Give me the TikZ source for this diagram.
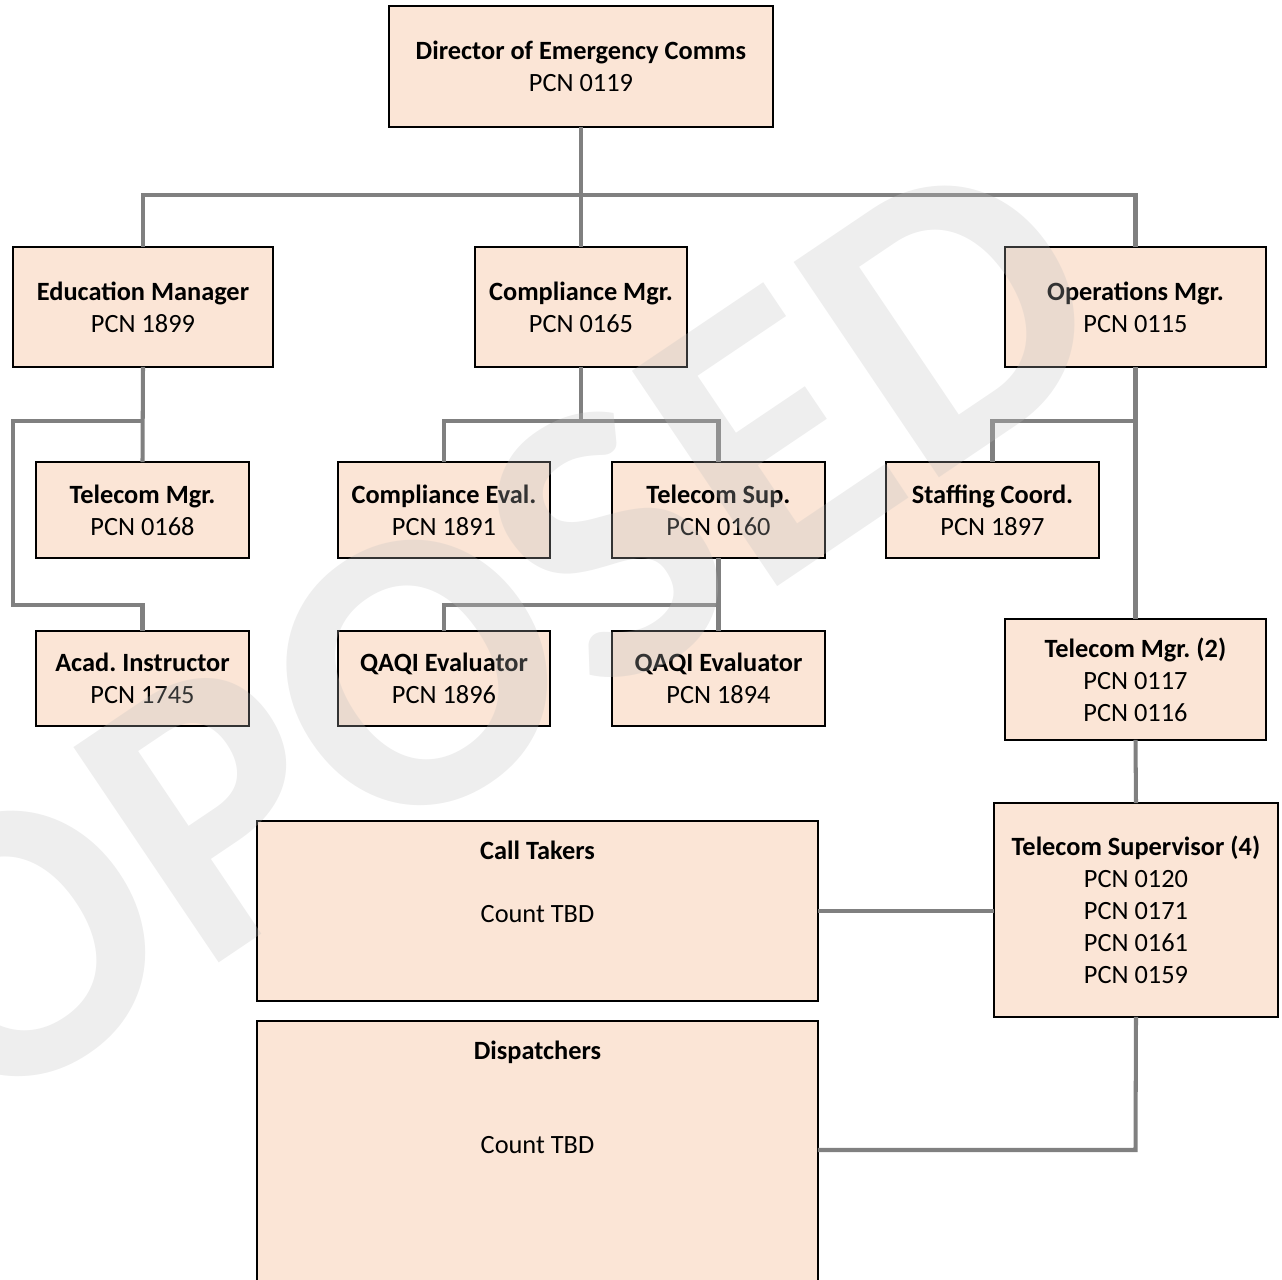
\documentclass[tikz,border=0pt]{standalone}
\usepackage{fontspec}
\setmainfont{Carlito}
\usetikzlibrary{positioning}
\frenchspacing

\definecolor{boxfill}{HTML}{FBE5D6}
\definecolor{linkgray}{HTML}{808080}

\tikzset{
  box/.style={draw=black, line width=1.1pt, fill=boxfill, align=center,
    inner sep=0pt, outer sep=0pt, font=\fontsize{15}{18.14}\selectfont},
  link/.style={draw=linkgray, line width=2.3pt},
  boxlabel/.style={inner sep=0pt, font=\fontsize{15}{18.14}\selectfont},
  watermark/.style={inner sep=0pt, text=gray!50, text opacity=0.27,
    font=\fontsize{228}{228}\selectfont\bfseries}
}

\begin{document}
\begin{tikzpicture}[x=0.02cm, y=-0.02cm]
  \useasboundingbox (0,0) rectangle (1282,1280);
  \clip (0,0) rectangle (1282,1280);

  % top
  \node[box, minimum width=7.68cm, minimum height=2.42cm] (dir) at (581,66.5) {\textbf{Director of Emergency Comms}\\PCN 0119};

  % second row
  \node[box, minimum width=5.2cm, minimum height=2.4cm] (edu) at (143,307) {\textbf{Education Manager}\\PCN 1899};
  \node[box, minimum width=4.24cm, minimum height=2.4cm] (comp) at (581,307) {\textbf{Compliance Mgr.}\\PCN 0165};
  \node[box, minimum width=5.22cm, minimum height=2.4cm] (ops) at (1135.5,307) {\textbf{Operations Mgr.}\\PCN 0115};

  % third row
  \node[box, minimum width=4.26cm, minimum height=1.92cm] (tmgr) at (142.5,510) {\textbf{Telecom Mgr.}\\PCN 0168};
  \node[box, minimum width=4.24cm, minimum height=1.92cm] (ceval) at (444,510) {\textbf{Compliance Eval.}\\PCN 1891};
  \node[box, minimum width=4.26cm, minimum height=1.92cm] (tsup) at (718.5,510) {\textbf{Telecom Sup.}\\PCN 0160};
  \node[box, minimum width=4.26cm, minimum height=1.92cm] (staff) at (992.5,510) {\textbf{Staffing Coord.}\\PCN 1897};

  % fourth row
  \node[box, minimum width=4.26cm, minimum height=1.9cm] (acad) at (142.5,678.5) {\textbf{Acad. Instructor}\\PCN 1745};
  \node[box, minimum width=4.24cm, minimum height=1.9cm] (qaqia) at (444,678.5) {\textbf{QAQI Evaluator}\\PCN 1896};
  \node[box, minimum width=4.26cm, minimum height=1.9cm] (qaqib) at (718.5,678.5) {\textbf{QAQI Evaluator}\\PCN 1894};
  \node[box, minimum width=5.22cm, minimum height=2.42cm] (tmgrtwo) at (1135.5,679.5) {\textbf{Telecom Mgr. (2)}\\PCN 0117\\PCN 0116};

  % floor
  \node[box, minimum width=5.68cm, minimum height=4.28cm] (tsupv) at (1136,910) {\textbf{Telecom Supervisor (4)}\\PCN 0120\\PCN 0171\\PCN 0161\\PCN 0159};
  \node[box, minimum width=11.22cm, minimum height=3.6cm] (calls) at (537.5,911) {};
  \node[box, minimum width=11.22cm, minimum height=5.8cm] (disp) at (537.5,1166) {};
  \node[boxlabel, below=0.4cm of calls.north] (callsname) {\textbf{Call Takers}};
  \node[boxlabel, below=1.68cm of calls.north] (callscount) {Count TBD};
  \node[boxlabel, below=0.4cm of disp.north] (dispname) {\textbf{Dispatchers}};
  \node[boxlabel, below=2.3cm of disp.north] (dispcount) {Count TBD};

  % connectors
  \coordinate (topbus) at (581,195);
  \coordinate (edubus) at (143,421);
  \coordinate (eduleft) at (13,421);
  \coordinate (acadturn) at (13,605);
  \coordinate (compbus) at (581,421);
  \coordinate (qbus) at (718.5,605);
  \coordinate (opsbus) at (1135.5,421);
  \coordinate (dispturn) at (1135.5,1150);

  \draw[link] (dir.south) -- (topbus);
  \draw[link] (edu.north) |- (topbus) -| (ops.north);
  \draw[link] (topbus) -- (comp.north);

  \draw[link] (edu.south) -- (tmgr.north);
  \draw[link] (edubus) -- (eduleft) -- (acadturn) -| (acad.north);

  \draw[link] (comp.south) -- (compbus);
  \draw[link] (ceval.north) |- (compbus) -| (tsup.north);
  \draw[link] (tsup.south) -- (qaqib.north);
  \draw[link] (qaqia.north) |- (qbus);

  \draw[link] (ops.south) -- (tmgrtwo.north);
  \draw[link] (staff.north) |- (opsbus);
  \draw[link] (tmgrtwo.south) -- (tsupv.north);
  \draw[link] (tsupv.west |- calls.east) -- (calls.east);
  \draw[link] (tsupv.south) -- (dispturn) -- (disp.east |- dispturn);

  % watermark
  \node[watermark, rotate=34] (wm) at (300,752) {PROPOSED};
\end{tikzpicture}
\end{document}
